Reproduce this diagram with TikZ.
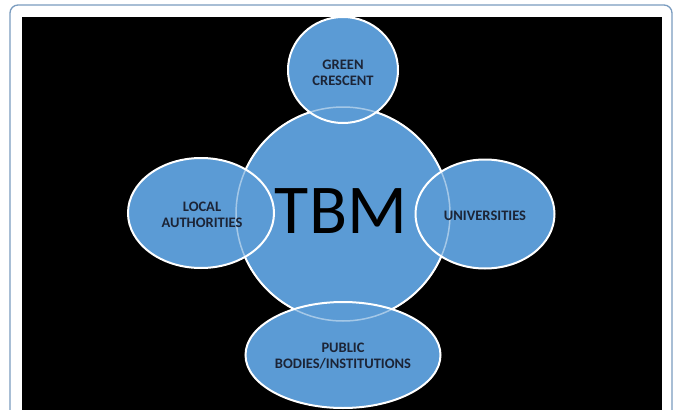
\documentclass[tikz,border=0pt]{standalone}
\usepackage{fontspec}
\setmainfont{Carlito}
\usetikzlibrary{shapes.geometric}
\definecolor{tbmblue}{HTML}{5B9BD5}
\definecolor{framecol}{HTML}{7A9CC0}
\definecolor{labelcol}{HTML}{1C2436}
\tikzset{
  hub/.style={circle, draw=white, line width=2pt, fill=tbmblue, inner sep=0pt},
  sat/.style={ellipse, draw=white, line width=2pt, fill=tbmblue, inner sep=0pt},
  lbl/.style={align=center, text=labelcol, inner sep=0pt, font=\bfseries\fontsize{14.5}{16}\selectfont},
}
\begin{document}
\begin{tikzpicture}[x=1pt,y=-1pt]
\useasboundingbox (0,0) rectangle (673,410);
\fill[white] (0,0) rectangle (673,410);
\draw[framecol, line width=1.3pt, rounded corners=8pt] (10,420) -- (10,5) -- (672,5) -- (672,420);
\fill[black] (22,17) rectangle (662,410);
\node[hub, minimum size=214pt] (tbm) at (343,214) {};
\node[sat, minimum width=110pt, minimum height=106pt] (green) at (343,70) {};
\node[sat, minimum width=146pt, minimum height=110pt] (local) at (201,213) {};
\node[sat, minimum width=139pt, minimum height=109pt] (univ) at (485,214) {};
\node[sat, minimum width=195pt, minimum height=106pt] (public) at (343,355) {};
\draw[white, line width=1.5pt, draw opacity=0.45] (tbm.center) circle[radius=107pt];
\node[font=\fontsize{70}{70}\selectfont, text=black] (tbmlabel) at (341,211) {TBM};
\node[lbl] (greenlbl) at (343,73) {GREEN\\CRESCENT};
\node[lbl] (locallbl) at (202,214.5) {LOCAL\\AUTHORITIES};
\node[lbl] (univlbl) at (485,215.5) {UNIVERSITIES};
\node[lbl] (publiclbl) at (343,356) {PUBLIC\\BODIES/INSTITUTIONS};
\end{tikzpicture}
\end{document}
